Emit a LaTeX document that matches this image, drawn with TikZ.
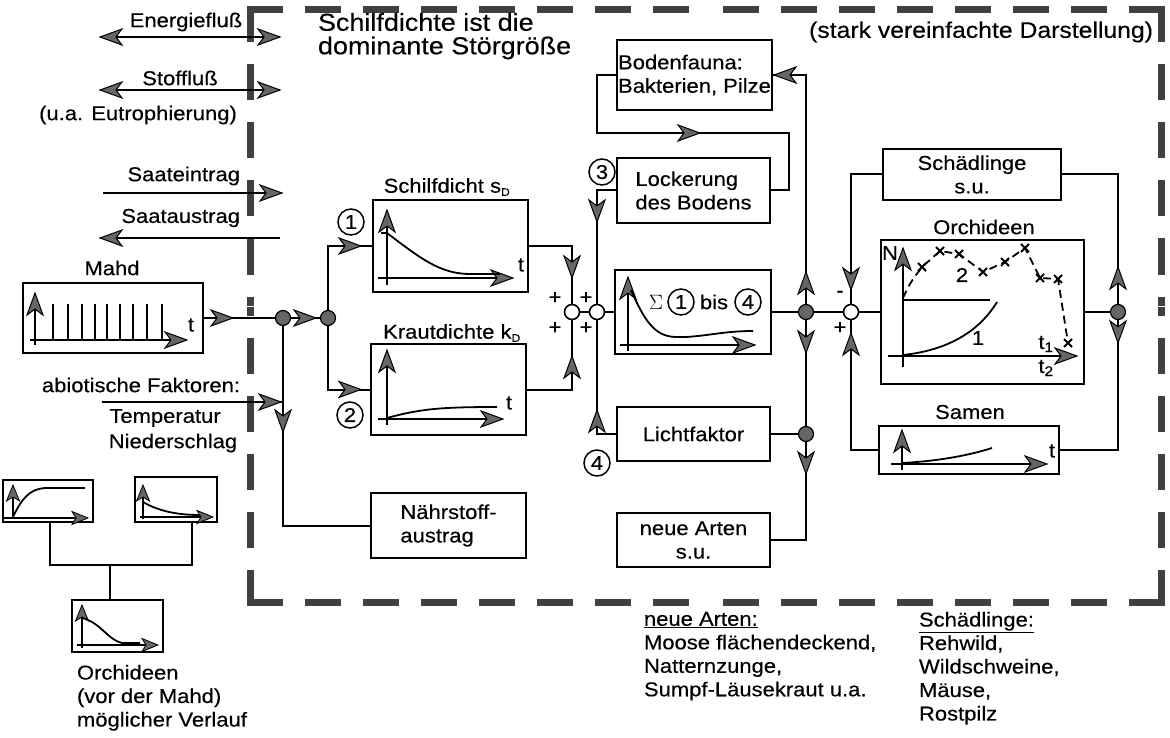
\documentclass[tikz,border=0pt]{standalone}
\usepackage{fontspec}
\setmainfont{Liberation Sans}[FakeStretch=1.1,FakeBold=0.35]
\usetikzlibrary{calc}
\newcommand{\bfnt}{\fontsize{20}{23.5}\selectfont}
\newcommand{\tfnt}{\fontsize{24.5}{23.5}\selectfont}
\newcommand{\sfnt}{\fontsize{22.5}{24}\selectfont}
\tikzset{
  ah/.pic={\filldraw[fill=black!60, draw=black, line width=1pt] (0,0) -- (-22,8) -- (-16,0) -- (-22,-8) -- cycle;},
  ahs/.pic={\filldraw[fill=black!60, draw=black, line width=0.8pt] (0,0) -- (-16,6.5) -- (-12,0) -- (-16,-6.5) -- cycle;},
  xm/.pic={\draw[line width=2pt] (-4,-4) -- (4,4) (-4,4) -- (4,-4);},
}
\begin{document}
\begin{tikzpicture}[x=1pt,y=-1pt,
  every node/.style={font=\bfnt, inner sep=0pt, outer sep=0pt},
  box/.style={draw, line width=2.2pt, inner sep=0pt},
  conn/.style={line width=2pt},
  ax/.style={line width=2pt},
  crv/.style={line width=1.8pt},
  dot/.style={circle, draw, fill=black!60, line width=1.2pt, minimum size=15pt},
  sumc/.style={circle, draw, fill=white, line width=1.6pt, minimum size=15pt},
  cnum/.style={circle, draw, line width=1.5pt, minimum size=26pt},
  bd/.style={line width=7pt, black!75, dash pattern=on 36pt off 22pt},
]
\useasboundingbox (0,0) rectangle (1170,738);

% ---------- boundary ----------
\draw[bd] (246.5,10) -- (705,10);
\draw[bd] (1164.5,10) -- (706,10);
\draw[bd] (250,6.5) -- (250,306);
\draw[bd] (250,605.5) -- (250,307);
\draw[bd] (1161,6.5) -- (1161,306);
\draw[bd] (1161,605.5) -- (1161,307);
\draw[bd] (246.5,602) -- (705,602);
\draw[bd] (1164.5,602) -- (706,602);

% ---------- legend ----------
\node (energie) at (186,22) {Energiefluß};
\coordinate (eL) at (100,37); \coordinate (eR) at (280,37);
\draw[conn] (eL) -- (eR);
\pic[rotate=180] at (eL) {ah}; \pic at (eR) {ah};

\node (stoff) at (180,78) {Stoffluß};
\coordinate (sL) at (100,90); \coordinate (sR) at (280,90);
\draw[conn] (sL) -- (sR);
\pic[rotate=180] at (sL) {ah}; \pic at (sR) {ah};
\node (eutro) at (138,115) {(u.a. Eutrophierung)};

\node[anchor=east] (saatein) at (240,176) {Saateintrag};
\coordinate (seL) at (103,193); \coordinate (seR) at (282,193);
\draw[conn] (seL) -- (seR); \pic at (seR) {ah};

\node[anchor=east] (saataus) at (240,218) {Saataustrag};
\coordinate (saL) at (100,238); \coordinate (saR) at (280,238);
\draw[conn] (saR) -- (saL); \pic[rotate=180] at (saL) {ah};

% ---------- Mahd ----------
\node (mahdlab) at (112,268) {Mahd};
\node[box, minimum width=180pt, minimum height=70pt] (mahd) at (113,318) {};
\foreach \x in {53,68,82,95,107,120,133,147,162} \draw[ax] (\x,304) -- (\x,340);
\draw[ax] (35,345) -- (35,296); \pic[rotate=90] at (35,293) {ah};
\draw[ax] (30,340) -- (184,340); \pic at (187,340) {ah};
\node at (191,325) {t};

\node[dot] (d1) at (283,318) {};
\node[dot] (d2) at (328,318) {};
\draw[conn] (mahd.east) -- (d1);
\pic at (233,318) {ah};
\draw[conn] (d1) -- (d2);
\pic at (316,318) {ah};

% abiotic
\node (abio) at (141,385) {abiotische Faktoren:};
\node (temp) at (165,418) {Temperatur};
\node (nieder) at (173,443) {Niederschlag};
\coordinate (abL) at (102,402);
\draw[conn] (abL) -- (abL -| d1);
\pic at ($(abL -| d1)+(-2,0)$) {ah};

% Naehrstoff
\node[box, minimum width=155pt, minimum height=65pt, align=left] (naehr) at (448.5,525.5) {Nährstoff-\\austrag};
\draw[conn] (d1) |- (naehr.west);
\pic[rotate=-90] at (283,432) {ah};

% ---------- Schilfdicht ----------
\node (schilflab) at (447,187) {Schilfdicht s\textsubscript{\fontsize{11}{11}\selectfont D}};
\node[box, minimum width=155pt, minimum height=92pt] (schilf) at (450.5,246) {};
\node[cnum] (c1) at (351,222) {1};
\draw[ax] (387,285) -- (387,213); \pic[rotate=90] at (387,210) {ah};
\draw[ax] (378,278) -- (510,278); \pic at (513,278) {ah};
\node at (521,265) {t};
\draw[crv] (381,233) -- (387,233) .. controls (420,258) and (440,274) .. (470,274) -- (500,274);

% ---------- Krautdichte ----------
\node (krautlab) at (452,333) {Krautdichte k\textsubscript{\fontsize{11}{11}\selectfont D}};
\node[box, minimum width=155pt, minimum height=91pt] (kraut) at (448.5,389.5) {};
\node[cnum] (c2) at (350,415) {2};
\draw[ax] (387,425) -- (387,353); \pic[rotate=90] at (387,350) {ah};
\draw[ax] (378,419) -- (500,419); \pic at (503,419) {ah};
\node at (509,403) {t};
\draw[crv] (387,418) .. controls (420,409) and (440,407) .. (497,407);

\draw[conn] (d2) |- (schilf.west);
\draw[conn] (d2) |- (kraut.west);
\pic at (361,246) {ah};
\pic at (361,389.5) {ah};

% ---------- summing junction ----------
\node[sumc] (s1) at (572,312) {};
\node[sumc] (s2) at (597,312) {};
\node at (555,298) {+}; \node at (555,328) {+};
\node at (586,298) {+}; \node at (586,328) {+};
\draw[conn] (schilf.east) -| (s1);
\draw[conn] (kraut.east) -| (s1);
\pic[rotate=-90] at (572,278) {ah};
\pic[rotate=90] at (572,356) {ah};
\draw[conn] (s1) -- (s2);

% ---------- Sigma box ----------
\node[box, minimum width=156pt, minimum height=84pt] (sigma) at (693,312) {};
\draw[ax] (628,351) -- (628,280); \pic[rotate=90] at (628,277) {ah};
\draw[ax] (620,345) -- (752,345); \pic at (755,345) {ah};
\draw[crv] (631,290) .. controls (645,322) and (655,336) .. (675,337) .. controls (700,338) and (720,331) .. (753,331);
\node (sig) at (656,302) {$\Sigma$};
\node[cnum] (sc1) at (681,302) {1};
\node (bis) at (714,302) {bis};
\node[cnum] (sc4) at (748,302) {4};
\draw[conn] (s2) -- (sigma.west);

% ---------- Bodenfauna / Lockerung ----------
\node[box, minimum width=155pt, minimum height=70pt, align=left] (boden) at (694.5,75) {Bodenfauna:\\Bakterien, Pilze};
\node[box, minimum width=153pt, minimum height=65pt, align=left] (lock) at (693.5,190.5) {Lockerung\\des Bodens};
\node[cnum] (c3) at (602,172) {3};
\coordinate (bl) at (789,133);
\draw[conn] (boden.west) -- ++(-20,0) |- (bl) |- (lock.east);
\pic at (700,133) {ah};
\draw[conn] (lock.west) -| (s2);
\pic[rotate=-90] at (597,222) {ah};

% ---------- Licht / neue Arten ----------
\node[box, minimum width=153pt, minimum height=54pt] (licht) at (693.5,434) {Lichtfaktor};
\node[cnum] (c4) at (597,463) {4};
\draw[conn] (licht.west) -| (s2);
\pic[rotate=90] at (597,410) {ah};
\node[box, minimum width=153pt, minimum height=54pt, align=center] (neue) at (693.5,540) {neue Arten\\s.u.};

\node[dot] (d3) at (806,312) {};
\node[dot] (d4) at (806,434) {};
\draw[conn] (sigma.east) -- (d3);
\draw[conn] (d3) |- (boden.east);
\pic[rotate=90] at (806,272) {ah};
\pic[rotate=180] at (774,75) {ah};
\draw[conn] (d3) -- (d4);
\pic[rotate=-90] at (806,353) {ah};
\draw[conn] (licht.east) -- (d4);
\draw[conn] (d4) |- (neue.east);
\pic[rotate=-90] at (806,474) {ah};

% ---------- Orchideen ----------
\node[sumc] (oc) at (851,312) {};
\node at (840,294) {-};
\node at (840,328) {+};
\draw[conn] (d3) -- (oc);
\node[box, minimum width=178pt, minimum height=51pt, align=center] (schaed) at (972,174.5) {Schädlinge\\s.u.};
\draw[conn] (schaed.west) -| (oc);
\pic[rotate=-90] at (851,290) {ah};

\node (orchlab) at (984,227) {Orchideen};
\node[box, minimum width=203pt, minimum height=144pt] (orch) at (982.5,312) {};
\draw[conn] (oc) -- (orch.west);
\draw[ax] (903,367) -- (903,251); \pic[rotate=90] at (903,248) {ah};
\node at (890,253) {N};
\draw[ax] (888,356) -- (1074,356); \pic at (1077,356) {ah};
\draw[line width=1.5pt] (903,300) -- (990,300);
\draw[crv] (903,355) .. controls (950,350) and (980,330) .. (997,302);
\node at (978,338) {1};
\draw[crv, dash pattern=on 8pt off 5pt] (903,298) .. controls (910,283) .. (922,267) -- (940,251) -- (959,254) -- (983,272) -- (1005,262) -- (1025,248) -- (1040,278) -- (1058,279) -- (1068,343);
\foreach \p in {(922,267),(940,251),(959,254),(983,272),(1005,262),(1025,248),(1040,278),(1058,279),(1068,343)} \pic at \p {xm};
\node at (962,275) {2};
\node at (1046,344) {t\textsubscript{1}};
\node at (1046,368) {t\textsubscript{2}};

\node[dot] (d5) at (1118,312) {};
\draw[conn] (orch.east) -- (d5);
\draw[conn] (d5) |- (schaed.east);
\pic[rotate=90] at (1118,267) {ah};

\node (samenlab) at (970,412) {Samen};
\node[box, minimum width=180pt, minimum height=48pt] (samen) at (969,450) {};
\draw[ax] (902,470) -- (902,433); \pic[rotate=90] at (902,430) {ah};
\draw[ax] (891,464) -- (1044,464); \pic at (1047,464) {ah};
\node at (1052,451) {t};
\draw[crv] (902,463) .. controls (940,461) and (970,455) .. (992,448);
\draw[conn] (samen.east) -| (d5);
\pic[rotate=-90] at (1118,343) {ah};
\draw[conn] (oc) |- (samen.west);
\pic[rotate=90] at (851,333) {ah};

% ---------- title texts ----------
\node[anchor=north west, align=left, font=\tfnt] (title) at (318,13) {Schilfdichte ist die\\dominante Störgröße};
\node[anchor=east, font=\sfnt] (stark) at (1153,32) {(stark vereinfachte Darstellung)};

% ---------- bottom left small plots ----------
\node[box, minimum width=90pt, minimum height=42pt] (p1) at (48,501) {};
\draw[ax] (13,519) -- (13,488); \pic[rotate=90] at (13,485) {ahs};
\draw[ax] (3,518) -- (85,518); \pic at (88,518) {ahs};
\draw[crv] (13,517) .. controls (22,498) and (30,489) .. (45,488) -- (85,488);

\node[box, minimum width=82pt, minimum height=45pt] (p2) at (176,499.5) {};
\draw[ax] (143,519) -- (143,488); \pic[rotate=90] at (143,485) {ahs};
\draw[ax] (140,517) -- (210,517); \pic at (213,517) {ahs};
\draw[crv] (143,502) .. controls (160,512) and (180,515) .. (200,515);

\node[box, minimum width=91pt, minimum height=52pt] (p3) at (117.5,626) {};
\draw[ax] (82,648) -- (82,608); \pic[rotate=90] at (82,605) {ahs};
\draw[ax] (77,645) -- (155,645); \pic at (158,645) {ahs};
\draw[crv] (82,618) .. controls (100,622) and (108,640) .. (122,643) -- (140,643);

\coordinate (jn) at (110,565);
\draw[conn] (p1.south -| 50,0) |- (jn) -| (p2.south -| 192,0);
\draw[conn] (jn) -- (jn |- p3.north);

\node[anchor=north west, align=left] (orchtext) at (77,665) {Orchideen\\(vor der Mahd)\\möglicher Verlauf};

% ---------- bottom texts ----------
\node[anchor=north west, align=left] (neuetext) at (644,612) {\underline{neue Arten:}\\Moose flächendeckend,\\Natternzunge,\\Sumpf-Läusekraut u.a.};
\node[anchor=north west, align=left] (schaedtext) at (919,612) {\underline{Schädlinge:}\\Rehwild,\\Wildschweine,\\Mäuse,\\Rostpilz};

\end{tikzpicture}
\end{document}
